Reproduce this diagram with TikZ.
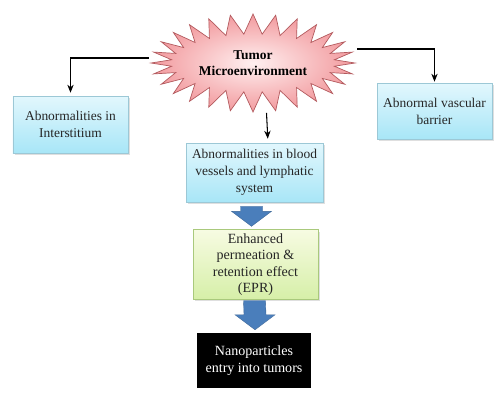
\documentclass[tikz,border=0pt]{standalone}
\usepackage{fontspec}
\setmainfont{LiberationSerif}[Extension=.ttf, UprightFont=*-Regular, BoldFont=*-Bold, ItalicFont=*-Italic, BoldItalicFont=*-BoldItalic]
\newfontfamily\boxfont{LiberationSerif}[Extension=.ttf, UprightFont=*-Regular, BoldFont=*-Bold]
\usetikzlibrary{shapes.symbols,shadows,calc,backgrounds,arrows.meta}

\definecolor{boxtop}{HTML}{E2F7FD}
\definecolor{boxbot}{HTML}{A8E6F7}
\definecolor{boxedge}{HTML}{9CC8D6}
\definecolor{eprtop}{HTML}{F7FBE2}
\definecolor{eprbot}{HTML}{D6EFA8}
\definecolor{epredge}{HTML}{A9C97C}
\definecolor{burstin}{HTML}{FFF0F0}
\definecolor{burstout}{HTML}{F29A9E}
\definecolor{burstedge}{HTML}{B35A5E}
\definecolor{arrowblue}{HTML}{4A7EBB}

\tikzset{
  box/.style={rectangle, draw=boxedge, line width=0.5pt, align=center,
    font=\boxfont\fontsize{11.5}{14.5}\selectfont, text=black!85,
    drop shadow={shadow xshift=0.6mm, shadow yshift=-0.6mm, opacity=0.25}},
  bluebox/.style={box, top color=boxtop, bottom color=boxbot},
  eprbox/.style={box, draw=epredge, top color=eprtop, bottom color=eprbot,
    font=\boxfont\fontsize{12}{14}\selectfont},
  darkbox/.style={rectangle, fill=black, text=white, align=center,
    font=\boxfont\fontsize{12}{14.5}\selectfont},
  conn/.style={line width=0.9pt, -{Stealth[length=2.4mm,width=1.9mm]}},
  fatarrow/.style={fill=arrowblue, draw=arrowblue!80!black, line width=0.3pt},
}

\newcommand\blockarrow[2]{%
  \filldraw[fatarrow] ($(#1)+(-11,0)$) -- ($(#1)+(11,0)$) -- ($(#2)+(11,-15)$)
    -- ($(#2)+(20,-15)$) -- (#2) -- ($(#2)+(-20,-15)$) -- ($(#2)+(-11,-15)$) -- cycle;}

\begin{document}
\begin{tikzpicture}[x=0.3mm,y=-0.3mm]
  \useasboundingbox (0,0) rectangle (500,400);

  % top
  \node[starburst, starburst points=28, starburst point height=6mm,
        random starburst=0, minimum width=60mm, minimum height=29.4mm,
        inner color=burstin, outer color=burstout, draw=burstedge, line width=0.6pt,
        align=center, font=\boxfont\bfseries\fontsize{11.5}{14}\selectfont]
        (burst) at (253,63) {Tumor\\Microenvironment};

  % causes
  \node[bluebox, minimum width=34.5mm, minimum height=17.1mm]
        (interst) at (70.5,124.5) {Abnormalities in\\Interstitium};
  \node[bluebox, minimum width=34.5mm, minimum height=16.8mm]
        (barrier) at (434.5,111) {Abnormal vascular\\barrier};
  \node[bluebox, minimum width=41.1mm, minimum height=17.7mm]
        (vessels) at (254.5,172.5) {Abnormalities in blood\\vessels and lymphatic\\system};

  % effect
  \node[eprbox, minimum width=37.5mm, minimum height=16.5mm]
        (epr) at (255.5,264.5) {Enhanced\\permeation \&\\retention effect\\(EPR)};
  \node[darkbox, minimum width=34.2mm, minimum height=16.5mm]
        (entry) at (254,360.5) {Nanoparticles\\entry into tumors};

  \begin{pgfonlayer}{background}
    \draw[conn, shorten >=0.9mm] ($(burst.west)+(0,-5)$) -| (interst.north);
    \draw[conn, shorten >=0.3mm] ($(burst.east)+(0,-14)$) -| (barrier.north);
    \draw[conn, shorten >=1.2mm] ($(burst.south)+(13.5,0)$) -- ($(vessels.north)+(13.5,0)$);
  \end{pgfonlayer}

  \coordinate (a1s) at ($(vessels.south)+(-3,4)$);
  \coordinate (a1e) at ($(epr.north)+(-4,-3)$);
  \coordinate (a2s) at ($(epr.south)+(-1,1)$);
  \coordinate (a2e) at ($(entry.north)+(1,-3)$);
  \blockarrow{a1s}{a1e}
  \blockarrow{a2s}{a2e}
\end{tikzpicture}
\end{document}
